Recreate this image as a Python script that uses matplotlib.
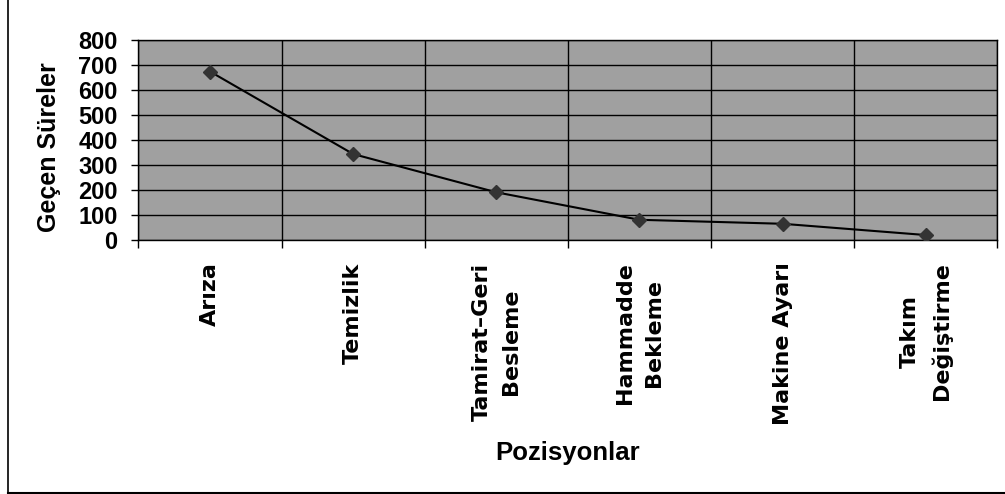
import numpy as np
import matplotlib.pyplot as plt
from matplotlib.lines import Line2D

# categories and durations
positions = ["Arıza", "Temizlik", "Tamirat–Geri\nBesleme", "Hammadde\nBekleme",
             "Makine Ayarı", "Takım\nDeğiştirme"]
durations = [675, 345, 192, 82, 66, 21]
yticks = [0, 100, 200, 300, 400, 500, 600, 700, 800]

plt.rcParams['font.family'] = ['Liberation Sans', 'DejaVu Sans']
plt.rcParams['font.weight'] = 'bold'

fig = plt.figure(figsize=(10.05, 4.94), dpi=100)
ax = fig.add_axes([0.1378, 0.5136, 0.8545, 0.4048])
ax.set_facecolor('#a0a0a0')

x = np.arange(len(positions))
ax.plot(x, durations, color='black', lw=1.5, marker='D', ms=7.5,
        mfc='#333333', mec='#333333', zorder=3)

ax.set_xlim(-0.5, len(positions) - 0.5)
ax.set_ylim(0, 800)
ax.set_yticks(yticks)
ax.set_yticklabels([str(v) for v in yticks], fontsize=17, fontweight='bold')
ax.tick_params(axis='y', length=5, width=1, pad=10)

ax.set_xticks(x)
ax.set_xticklabels(positions, rotation=90, fontsize=16, fontweight='bold',
                   va='top', ha='center', family=['DejaVu Sans'],
                   linespacing=1.6)
ax.set_xticks(np.arange(len(positions) + 1) - 0.5, minor=True)
ax.tick_params(axis='x', which='major', length=0, pad=16)
ax.tick_params(axis='x', which='minor', length=6, width=1)

ax.grid(axis='y', which='major', color='black', lw=1)
ax.grid(axis='x', which='minor', color='black', lw=1)
ax.set_axisbelow(True)
for s in ax.spines.values():
    s.set_color('black')
    s.set_linewidth(1)

ax.set_ylabel('Geçen Süreler', fontsize=18, fontweight='bold')
ax.yaxis.set_label_coords(-0.090, 0.464)
ax.set_xlabel('Pozisyonlar', fontsize=18.5, fontweight='bold', va='center')
ax.xaxis.set_label_coords(0.5, -1.064)

# outer frame (only left and bottom edges are visible)
fig.add_artist(Line2D([0.008, 0.008], [0.0, 1.0], transform=fig.transFigure,
                      color='black', lw=1.2))
fig.add_artist(Line2D([0.008, 1.0], [0.003, 0.003], transform=fig.transFigure,
                      color='black', lw=1.5))

fig.savefig('out.png', dpi=100)
